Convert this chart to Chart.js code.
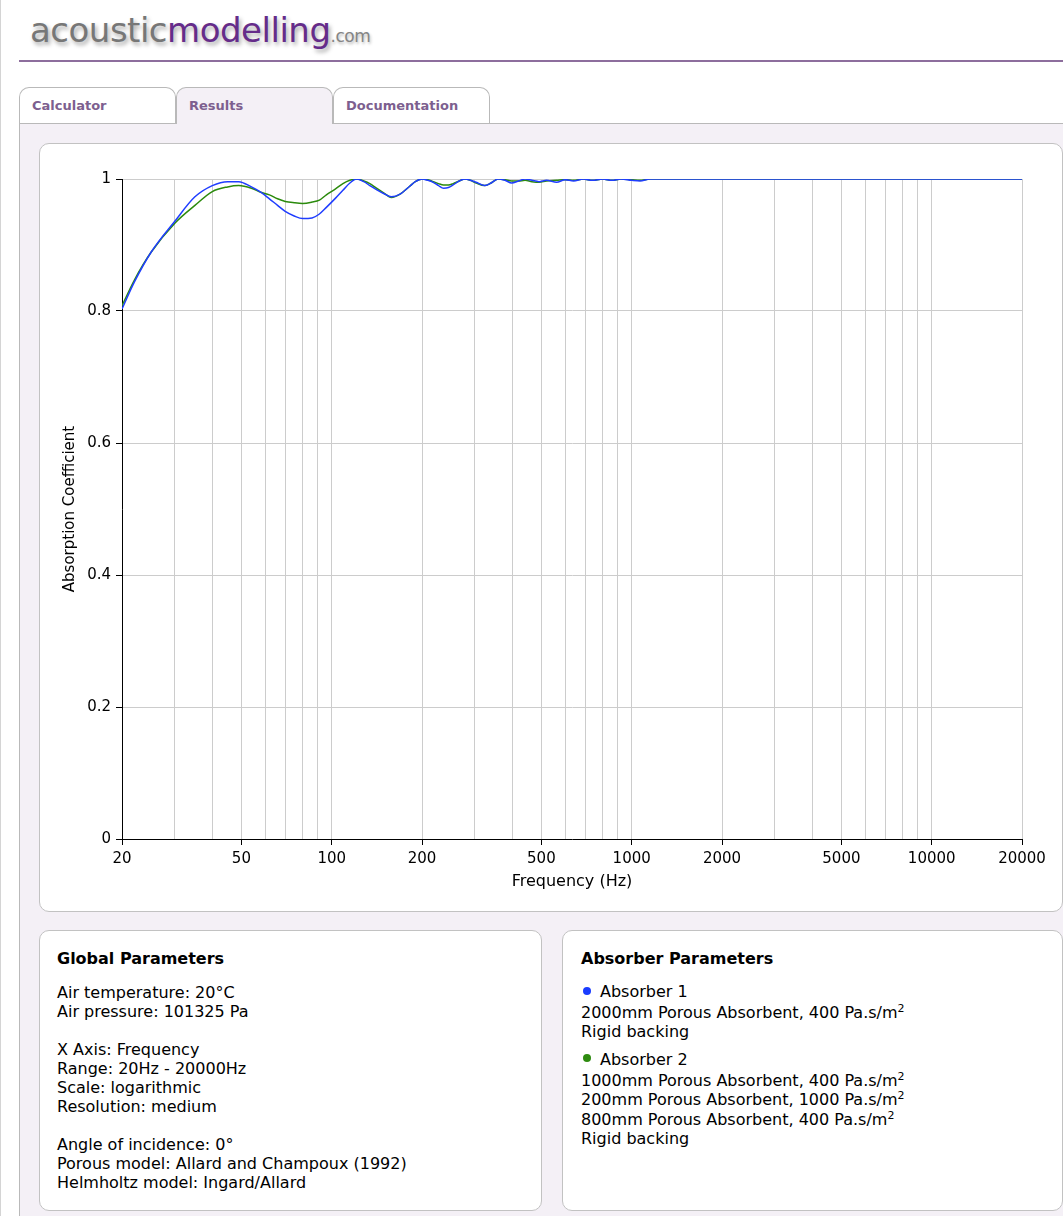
<!DOCTYPE html>
<html>
<head>
<meta charset="utf-8">
<script src="https://cdn.jsdelivr.net/npm/chart.js@4.4.1/dist/chart.umd.min.js"></script>
<style>
  html, body { margin:0; padding:0; }
  body { width:1063px; height:1216px; overflow:hidden; position:relative; background:#fff; font-family:"DejaVu Sans", Verdana, sans-serif; color:#000; }
  .abs { position:absolute; }
  #leftline { left:0; top:0; width:1px; height:1216px; background:#d4d4d4; }
  #logo { left:30px; top:13px; font-size:34px; line-height:34px; white-space:nowrap; letter-spacing:-0.5px; }
  #logo .a { color:#777777; text-shadow:2px 3px 4px rgba(0,0,0,0.35); }
  #logo .m { color:#652c8a; text-shadow:2px 3px 4px rgba(0,0,0,0.35); }
  #logo .c { color:#858585; font-size:17px; text-shadow:1px 2px 3px rgba(0,0,0,0.3); }
  #rule { left:19px; top:60px; width:1044px; height:2px; background:#8d6e9d; }
  #panel { left:19px; top:123px; width:1044px; height:1093px; background:#f4f0f6; border-left:1px solid #b9b9b9; border-top:1px solid #b9b9b9; box-sizing:border-box; }
  .tab { top:87px; height:36px; width:157px; box-sizing:border-box; border:1px solid #b9b9b9; border-bottom:none; border-radius:10px 10px 0 0; background:#fff; font-weight:bold; font-size:13px; color:#7d5f8f; padding-left:12px; line-height:36px; }
  .tab.active { background:#f4f0f6; height:37px; }
  .card { background:#fff; border:1px solid #c2c2c2; border-radius:10px; box-sizing:border-box; }
  #chartcard { left:39px; top:143px; width:1024px; height:769px; }
  #canvaswrap { left:40px; top:144px; width:1021px; height:766px; }
  #card1 { left:39px; top:930px; width:503px; height:281px; }
  #card2 { left:562px; top:930px; width:501px; height:281px; }
  .ln { position:absolute; font-size:16px; line-height:19px; white-space:nowrap; }
  .ttl { font-weight:bold; }
  sup { font-size:11px; line-height:0; vertical-align:6px; }
  .dot { position:absolute; width:8px; height:8px; border-radius:50%; }
</style>
</head>
<body>
<div id="leftline" class="abs"></div>
<div id="logo" class="abs"><span class="a">acoustic</span><span class="m">modelling</span><span class="c">.com</span></div>
<div id="rule" class="abs"></div>
<div id="panel" class="abs"></div>
<div class="abs tab" style="left:19px;">Calculator</div>
<div class="abs tab active" style="left:176px;">Results</div>
<div class="abs tab" style="left:333px;">Documentation</div>

<div id="chartcard" class="abs card"></div>
<div id="canvaswrap" class="abs"><canvas id="chart" width="1021" height="766" style="width:1021px;height:766px;display:block"></canvas></div>

<div id="card1" class="abs card"></div>
<div id="card2" class="abs card"></div>

<div class="ln ttl" style="left:57px;top:949px;">Global Parameters</div>
<div class="ln" style="left:57px;top:983px;">Air temperature: 20°C</div>
<div class="ln" style="left:57px;top:1002px;">Air pressure: 101325 Pa</div>
<div class="ln" style="left:57px;top:1040px;">X Axis: Frequency</div>
<div class="ln" style="left:57px;top:1059px;">Range: 20Hz - 20000Hz</div>
<div class="ln" style="left:57px;top:1078px;">Scale: logarithmic</div>
<div class="ln" style="left:57px;top:1097px;">Resolution: medium</div>
<div class="ln" style="left:57px;top:1135px;">Angle of incidence: 0°</div>
<div class="ln" style="left:57px;top:1154px;">Porous model: Allard and Champoux (1992)</div>
<div class="ln" style="left:57px;top:1173px;">Helmholtz model: Ingard/Allard</div>

<div class="ln ttl" style="left:581px;top:949px;">Absorber Parameters</div>
<div class="dot" style="left:583px;top:987px;background:#1a3cff;"></div>
<div class="ln" style="left:600px;top:982px;">Absorber 1</div>
<div class="ln" style="left:581px;top:1003px;">2000mm Porous Absorbent, 400 Pa.s/m<sup>2</sup></div>
<div class="ln" style="left:581px;top:1022px;">Rigid backing</div>
<div class="dot" style="left:583px;top:1054px;background:#2e8b10;"></div>
<div class="ln" style="left:600px;top:1050px;">Absorber 2</div>
<div class="ln" style="left:581px;top:1071px;">1000mm Porous Absorbent, 400 Pa.s/m<sup>2</sup></div>
<div class="ln" style="left:581px;top:1090px;">200mm Porous Absorbent, 1000 Pa.s/m<sup>2</sup></div>
<div class="ln" style="left:581px;top:1110px;">800mm Porous Absorbent, 400 Pa.s/m<sup>2</sup></div>
<div class="ln" style="left:581px;top:1129px;">Rigid backing</div>

<script>
// ---- data ----
const frequencies = [20, 22, 25, 30, 35, 40, 45, 49, 54, 58, 62, 66, 70, 75, 80, 86, 91, 96, 103, 109, 115, 121, 128, 134, 141, 149, 158, 169, 182, 190, 200, 209, 218, 227, 236, 245, 254, 266, 278, 290, 303, 323, 340, 359, 378, 398, 420, 441, 465, 491, 520, 562, 600, 640, 690, 740, 800, 860, 920, 1000, 1066, 1150, 1250, 2000, 5000, 10000, 20000];
const absorber1 = [0.803, 0.844, 0.889, 0.936, 0.973, 0.990, 0.996, 0.996, 0.988, 0.980, 0.970, 0.960, 0.951, 0.944, 0.940, 0.941, 0.947, 0.957, 0.971, 0.983, 0.994, 1.000, 0.996, 0.990, 0.984, 0.978, 0.973, 0.977, 0.989, 0.996, 1.000, 0.998, 0.995, 0.990, 0.986, 0.987, 0.991, 0.997, 1.000, 0.998, 0.995, 0.990, 0.994, 1.000, 0.998, 0.994, 0.997, 1.000, 0.998, 0.996, 0.998, 0.995, 0.999, 0.997, 1.000, 0.998, 1.000, 0.998, 1.000, 0.998, 0.997, 1.000, 1.000, 1.000, 1.000, 1.000, 1.000];
const absorber2 = [0.808, 0.847, 0.889, 0.933, 0.960, 0.981, 0.988, 0.990, 0.986, 0.980, 0.976, 0.970, 0.966, 0.964, 0.963, 0.965, 0.968, 0.976, 0.985, 0.993, 0.998, 1.000, 0.997, 0.993, 0.986, 0.979, 0.972, 0.977, 0.989, 0.996, 1.000, 0.999, 0.996, 0.993, 0.991, 0.991, 0.993, 0.997, 1.000, 0.998, 0.994, 0.990, 0.994, 1.000, 0.999, 0.997, 0.997, 0.998, 0.996, 0.995, 0.997, 0.998, 0.999, 0.998, 1.000, 0.998, 1.000, 0.998, 1.000, 0.999, 0.998, 1.000, 1.000, 1.000, 1.000, 1.000, 1.000];
const xTickLabels = [20, 50, 100, 200, 500, 1000, 2000, 5000, 10000, 20000];
const xGridLines = [20, 30, 40, 50, 60, 70, 80, 90, 100, 200, 300, 400, 500, 600, 700, 800, 900, 1000, 2000, 3000, 4000, 5000, 6000, 7000, 8000, 9000, 10000, 20000];
const yTickValues = [0, 0.2, 0.4, 0.6, 0.8, 1];
const seriesNames = ['Absorber 1', 'Absorber 2'];

const FONT = "'DejaVu Sans', Verdana, sans-serif";
const toPoints = (ys) => frequencies.map((f, i) => ({ x: f, y: ys[i] }));

new Chart(document.getElementById('chart').getContext('2d'), {
  type: 'line',
  data: {
    datasets: [
      { label: seriesNames[0], data: toPoints(absorber1), borderColor: '#1f3dff', borderWidth: 1.5, pointRadius: 0, fill: false, cubicInterpolationMode: 'monotone' },
      { label: seriesNames[1], data: toPoints(absorber2), borderColor: '#2b8a0c', borderWidth: 1.5, pointRadius: 0, fill: false, cubicInterpolationMode: 'monotone' }
    ]
  },
  options: {
    responsive: false,
    animation: false,
    devicePixelRatio: 1,
    layout: { padding: { left: 0, right: 39, top: 35, bottom: 0 } },
    plugins: { legend: { display: false }, tooltip: { enabled: false } },
    scales: {
      x: {
        type: 'logarithmic',
        min: 20, max: 20000,
        afterBuildTicks: (s) => { s.ticks = xGridLines.map(v => ({ value: v })); },
        afterFit: (s) => { s.height = 71; },
        ticks: {
          autoSkip: false, maxRotation: 0, minRotation: 0, color: '#000', padding: 5,
          font: { family: FONT, size: 15 },
          callback: (v) => xTickLabels.includes(v) ? String(v) : ''
        },
        grid: {
          color: '#cccccc', lineWidth: 1, tickLength: 6,
          tickColor: (c) => (c.tick && xTickLabels.includes(c.tick.value)) ? '#000' : 'rgba(0,0,0,0)'
        },
        border: { color: '#000', width: 1 },
        title: { display: true, text: 'Frequency (Hz)', color: '#000', font: { family: FONT, size: 16 }, padding: { top: 0, bottom: 19 } }
      },
      y: {
        min: 0, max: 1,
        afterBuildTicks: (s) => { s.ticks = yTickValues.map(v => ({ value: v })); },
        afterFit: (s) => { s.width = 82; },
        ticks: { color: '#000', padding: 5, font: { family: FONT, size: 15 }, callback: (v) => String(v) },
        grid: { color: '#cccccc', lineWidth: 1, tickLength: 6, tickColor: '#000' },
        border: { color: '#000', width: 1 },
        title: { display: true, text: 'Absorption Coefficient', color: '#000', font: { family: FONT, size: 15 }, padding: { top: 21, bottom: 0 } }
      }
    }
  }
});
</script>
</body>
</html>
